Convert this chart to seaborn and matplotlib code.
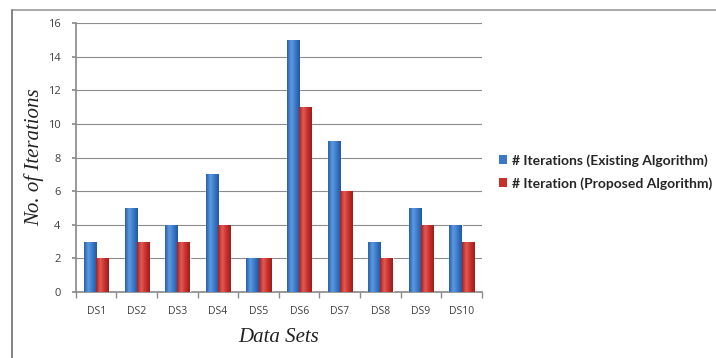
import numpy as np
import pandas as pd
import matplotlib
matplotlib.use("Agg")
import matplotlib.pyplot as plt
import seaborn as sns
from matplotlib.colors import LinearSegmentedColormap
from matplotlib.patches import Rectangle, Patch

categories = ["DS1", "DS2", "DS3", "DS4", "DS5", "DS6", "DS7", "DS8", "DS9", "DS10"]
existing = [3, 5, 4, 7, 2, 15, 9, 3, 5, 4]
proposed = [2, 3, 3, 4, 2, 11, 6, 2, 4, 3]
series_names = ["# Iterations (Existing Algorithm)", "# Iteration (Proposed Algorithm)"]
yticks = [0, 2, 4, 6, 8, 10, 12, 14, 16]

df = pd.DataFrame({
    "cat": categories * 2,
    "val": existing + proposed,
    "series": [series_names[0]] * len(categories) + [series_names[1]] * len(categories),
})

sns.set_theme(style="white")
plt.rcParams["font.family"] = ["Open Sans", "DejaVu Sans"]

fig = plt.figure(figsize=(7.16, 3.58), dpi=100)
ax = fig.add_axes([0.106, 0.184, 0.567, 0.752])

blue = "#3b78c6"
red = "#c8302c"
sns.barplot(data=df, x="cat", y="val", hue="series", palette=[blue, red],
            width=0.6, ax=ax, legend=False, saturation=1, zorder=3)

# cylinder shading
cmaps = {
    "b": LinearSegmentedColormap.from_list("b", ["#2a5fa8", "#5b9be0", "#3a78c8", "#23569c"]),
    "r": LinearSegmentedColormap.from_list("r", ["#a52220", "#e25a55", "#c8302c", "#9a1e1c"]),
}
grad = np.linspace(0, 1, 64).reshape(1, -1)
for p in list(ax.patches):
    if not isinstance(p, Rectangle):
        continue
    x0, y0 = p.get_x(), p.get_y()
    w, h = p.get_width(), p.get_height()
    if h <= 0:
        continue
    r_, g_, b_, _ = p.get_facecolor()
    cm = cmaps["b"] if b_ > r_ else cmaps["r"]
    im = ax.imshow(grad, cmap=cm, extent=[x0, x0 + w, y0, y0 + h],
                   aspect="auto", zorder=4, interpolation="bilinear")
    im.set_clip_path(p)

ax.set_xlim(-0.5, 9.5)
ax.set_ylim(0, 16)
ax.set_yticks(yticks)
ax.set_yticklabels([str(t) for t in yticks], fontsize=8, color="#404040")
ax.yaxis.grid(True, color="#8c8c8c", linewidth=0.8, zorder=0)
ax.set_axisbelow(True)
for s in ["top", "right"]:
    ax.spines[s].set_visible(False)
ax.spines["left"].set_color("#8c8c8c")
ax.spines["bottom"].set_color("#8c8c8c")
ax.tick_params(axis="y", length=3, color="#8c8c8c", left=True, pad=8)
ax.set_xticks(range(len(categories)))
ax.set_xticklabels(categories, fontsize=7.5, color="#404040")
ax.tick_params(axis="x", length=0, pad=10)
ax.set_xticks(np.arange(-0.5, 10, 1), minor=True)
ax.tick_params(axis="x", which="minor", length=4, color="#8c8c8c", bottom=True)

ax.set_xlabel("Data Sets", fontsize=15, family="Liberation Serif", style="italic",
              color="#222222", labelpad=8)
ax.set_ylabel("No. of Iterations", fontsize=15, family="Liberation Serif", style="italic",
              color="#222222")
ax.yaxis.set_label_coords(-0.078, 0.5)

# legend
handles = [Patch(facecolor=blue, edgecolor="none"), Patch(facecolor=red, edgecolor="none")]
fig.legend(handles, series_names, loc="center left", bbox_to_anchor=(0.697, 0.52),
           frameon=False, prop={"family": "Lato", "weight": "bold", "size": 10},
           handlelength=0.6, handleheight=0.6, handletextpad=0.3, labelspacing=0.75,
           borderpad=0, borderaxespad=0)

# chart area border
fig.add_artist(plt.Line2D([0.017, 1.0], [0.972, 0.972], color="#9a9a9a", lw=1.2,
                          transform=fig.transFigure))
fig.add_artist(plt.Line2D([0.017, 0.017], [0.0, 0.972], color="#707070", lw=1.2,
                          transform=fig.transFigure))

fig.savefig("out.png", dpi=100)
